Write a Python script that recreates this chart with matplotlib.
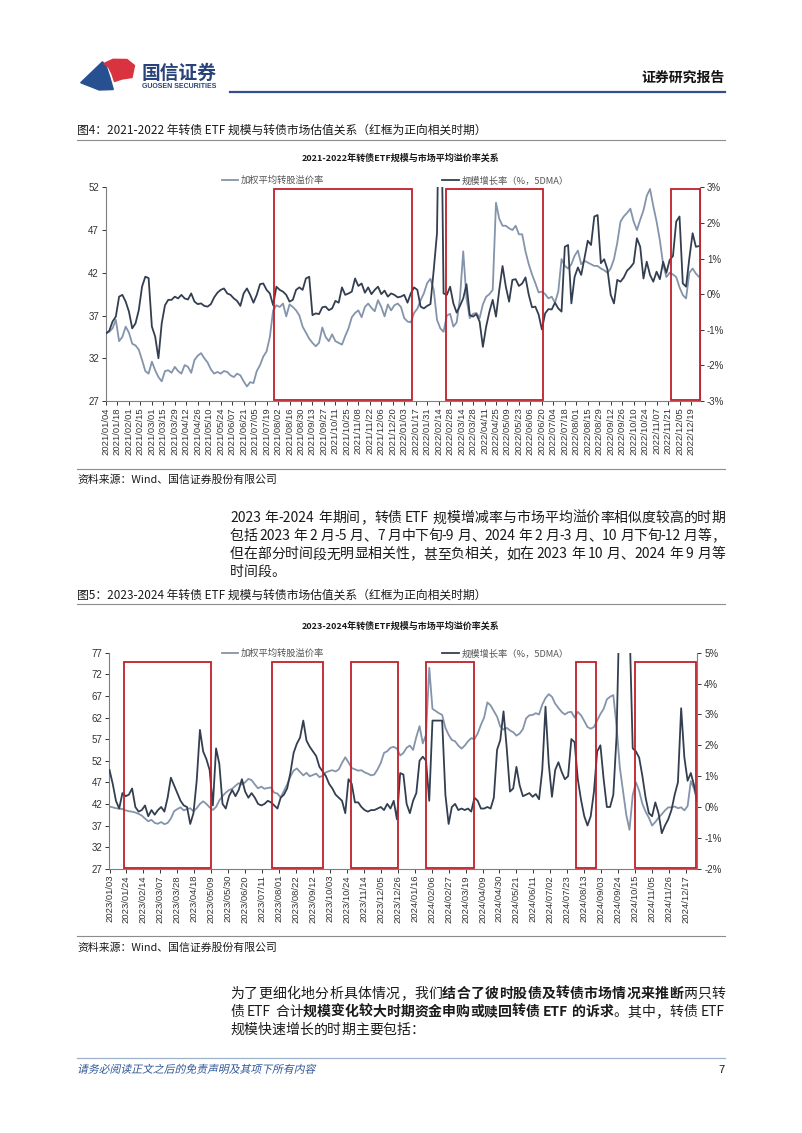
import pandas as pd
import matplotlib
matplotlib.use('Agg')
import matplotlib.pyplot as plt
import matplotlib.dates as mdates
from matplotlib.patches import Rectangle, Polygon, PathPatch
from matplotlib.lines import Line2D
from matplotlib.font_manager import FontProperties
from matplotlib.textpath import TextPath
from matplotlib.transforms import Affine2D

plt.rcParams['font.family'] = ['Noto Sans CJK SC', 'DejaVu Sans']

# ---------------- data ----------------
# chart 1: 2021-2022, sampled every 4 calendar days
dates1 = pd.date_range('2021-01-04', periods=182, freq='4D')
premium1 = [
    34.9, 35.1, 35.5, 36.5, 34.0, 34.5, 35.7, 35.0, 33.7, 33.5,
    33.0, 31.8, 30.5, 30.2, 31.6, 30.6, 29.8, 29.3, 30.5, 30.6,
    30.3, 31.0, 30.5, 30.2, 31.2, 31.0, 30.3, 31.8, 32.3, 32.6,
    32.0, 31.5, 30.7, 30.2, 30.4, 30.2, 30.5, 30.4, 30.0, 29.8,
    30.2, 30.0, 29.3, 28.7, 29.2, 29.1, 30.5, 31.2, 32.2, 32.8,
    34.5, 37.6, 38.2, 38.0, 38.4, 36.9, 38.3, 38.0, 37.6, 37.0,
    35.7, 35.0, 34.3, 33.8, 33.4, 33.8, 35.6, 34.5, 34.0, 34.8,
    34.0, 33.8, 33.6, 34.6, 35.5, 36.8, 37.3, 37.6, 36.8, 38.0,
    38.4, 37.9, 37.5, 38.8, 38.0, 36.9, 38.3, 37.6, 38.2, 38.4,
    38.0, 36.7, 36.3, 36.2, 37.3, 37.8, 38.8, 39.6, 40.8, 41.3,
    40.0, 36.5, 35.5, 35.1, 37.0, 37.2, 35.7, 36.2, 39.0, 44.5,
    39.0, 36.7, 37.2, 37.3, 36.7, 38.3, 39.2, 39.5, 40.0, 50.2,
    48.3, 47.5, 47.5, 47.2, 47.0, 47.5, 46.5, 46.5, 44.5, 43.0,
    41.8, 40.8, 39.7, 39.8, 39.5, 39.0, 39.2, 38.5, 39.8, 43.6,
    42.8, 42.5, 43.0, 44.0, 44.6, 43.0, 43.4, 43.2, 43.0, 42.8,
    42.8, 42.5, 42.3, 42.0, 42.5, 43.6, 45.5, 48.0, 48.6, 49.0,
    49.5, 48.0, 47.0, 48.2, 49.3, 51.0, 51.8, 49.8, 48.0, 45.8,
    43.0, 41.5, 42.0, 41.8, 41.5, 40.3, 39.4, 39.0, 42.0, 42.5,
    41.9, 41.5,
]
growth1 = [
    -1.10, -1.03, -0.77, -0.63, -0.07, -0.02, -0.21, -0.49, -0.96, -0.82,
    -0.45, 0.21, 0.49, 0.45, -0.91, -1.19, -1.80, -0.82, -0.31, -0.16,
    -0.16, -0.07, -0.12, -0.02, -0.12, -0.15, 0.02, -0.21, -0.28, -0.26,
    -0.33, -0.35, -0.28, -0.09, 0.04, 0.12, 0.16, 0.02, -0.02, -0.12,
    -0.19, -0.33, 0.02, 0.16, -0.02, -0.24, -0.02, 0.28, 0.30, 0.12,
    0.02, -0.31, 0.21, 0.12, 0.07, -0.02, -0.21, -0.16, 0.12, 0.19,
    0.12, 0.44, 0.49, -0.59, -0.54, -0.56, -0.37, -0.35, -0.45, -0.40,
    -0.19, -0.24, 0.19, -0.02, 0.02, 0.07, 0.44, 0.23, 0.30, 0.04,
    0.19, 0.00, 0.12, 0.21, 0.00, 0.10, -0.07, 0.02, -0.02, -0.09,
    -0.07, -0.02, -0.24, 0.02, 0.19, 0.12, -0.35, -0.40, -0.33, -0.28,
    0.68, 1.71, 8.00, 0.02, -0.02, 0.21, -0.26, -0.52, -0.33, -0.12,
    0.28, -0.59, -0.63, -0.56, -0.77, -1.48, -0.91, -0.49, -0.16, -0.63,
    0.12, 0.79, 0.21, -0.21, 0.40, 0.42, 0.23, 0.30, 0.47, -0.02,
    -0.37, -0.35, -0.57, -0.99, -0.54, -0.42, -0.43, -0.24, -0.40, -0.49,
    1.33, 1.38, -0.26, 0.49, 0.75, 0.54, 1.01, 1.50, 1.38, 2.18,
    2.22, 0.87, 0.98, 0.70, -0.02, -0.26, 0.40, 0.35, 0.47, 0.66,
    0.75, 0.87, 1.57, 1.33, 0.44, 0.91, 0.54, 0.35, 0.63, 0.42,
    0.91, 0.60, 0.96, 1.07, 2.04, 2.18, 0.30, 0.21, 1.01, 1.71,
    1.33, 1.35,
]
boxes1 = [('2021-07-28', '2022-01-12'), ('2022-02-23', '2022-06-21'),
          ('2022-11-24', '2022-12-30')]
xlim1 = ('2021-01-04', '2022-12-30')
ticks1 = pd.date_range('2021-01-04', '2022-12-19', freq='14D')

# chart 2: 2023-2024, sampled every 4 calendar days
dates2 = pd.date_range('2023-01-03', periods=183, freq='4D')
premium2 = [
    41.4, 41.2, 41.0, 40.9, 40.8, 40.5, 40.3, 40.2, 40.0, 39.7,
    39.3, 38.6, 38.0, 38.3, 37.6, 37.4, 37.8, 37.3, 37.6, 38.6,
    40.3, 40.8, 41.2, 40.5, 40.8, 41.0, 40.3, 41.0, 42.0, 42.6,
    42.0, 41.2, 40.6, 41.3, 42.8, 43.8, 44.6, 45.2, 45.5, 46.2,
    46.8, 46.5, 47.0, 47.8, 47.5, 46.5, 45.6, 46.0, 45.5, 45.7,
    45.8, 44.6, 44.4, 43.5, 45.0, 46.5, 48.3, 49.7, 50.2, 49.4,
    48.6, 49.2, 48.4, 48.7, 49.0, 48.2, 48.5, 49.3, 49.6, 49.8,
    49.5, 50.0, 51.5, 52.8, 51.6, 50.3, 50.0, 49.7, 49.8, 49.3,
    49.0, 48.6, 48.8, 50.0, 51.5, 53.8, 54.2, 55.0, 55.2, 54.8,
    53.2, 53.8, 55.0, 55.5, 54.5, 57.5, 60.0, 56.0, 58.0, 73.5,
    64.0, 63.5, 63.0, 62.6, 59.6, 58.0, 56.8, 56.5, 55.5, 54.8,
    55.5, 56.5, 57.2, 57.0, 58.3, 60.3, 62.0, 65.5, 64.8, 63.5,
    62.2, 59.9, 59.2, 59.6, 59.0, 58.6, 57.8, 58.3, 59.3, 61.8,
    62.5, 62.6, 63.0, 62.7, 65.0, 66.5, 67.4, 66.8, 65.2, 64.2,
    63.3, 62.7, 63.2, 63.3, 62.0, 63.3, 62.5, 61.2, 59.8, 59.4,
    59.8, 61.3, 62.8, 64.0, 66.2, 66.8, 67.2, 60.0, 50.5, 45.0,
    39.5, 36.0, 44.0, 47.0, 45.0, 42.0, 40.2, 38.8, 37.0, 37.8,
    38.8, 39.6, 40.5, 41.2, 41.2, 41.4, 41.0, 41.2, 40.5, 41.5,
    47.3, 45.5, 42.5,
]
growth2 = [
    1.20, 0.75, 0.20, -0.05, 0.45, 0.35, 0.40, 0.60, 0.00, -0.15,
    -0.10, 0.05, -0.30, -0.10, -0.25, -0.10, 0.00, -0.15, 0.30, 0.95,
    0.70, 0.45, 0.20, 0.05, 0.00, -0.55, -0.20, 0.85, 2.50, 1.80,
    1.55, 1.20, 0.05, 1.90, 1.40, 0.10, -0.05, 0.35, 0.55, 0.35,
    0.55, 0.90, 0.50, 0.30, 0.45, 0.30, 0.10, 0.05, 0.10, 0.20,
    0.15, 0.05, -0.05, 0.30, 0.40, 0.60, 1.10, 1.75, 2.05, 2.25,
    2.80, 2.15, 1.95, 1.80, 1.65, 1.30, 1.15, 1.00, 0.75, 0.60,
    0.40, 0.30, 0.20, -0.20, 0.90, 0.75, 0.15, 0.15, 0.00, -0.10,
    -0.15, -0.10, -0.10, -0.05, 0.00, -0.10, 0.10, -0.05, 0.20, -0.40,
    1.10, 1.05, 0.10, -0.20, 0.20, 0.45, 1.50, 1.63, 1.50, 0.20,
    2.80, 2.80, 2.80, 2.80, 0.40, -0.55, 0.00, 0.10, -0.10, -0.05,
    -0.10, -0.05, -0.15, 0.30, 0.20, -0.05, -0.05, 0.00, -0.05, 0.30,
    1.85, 2.17, 3.10, 1.90, 0.50, 0.60, 1.30, 0.70, 0.35, 0.40,
    0.45, 0.33, 0.42, 0.25, 1.20, 3.25, 1.40, 0.33, 1.20, 1.45,
    1.14, 0.90, 1.00, 2.20, 2.10, 0.90, 0.23, -0.30, -0.60, -0.30,
    0.50, 1.80, 2.00, 0.90, 0.00, 0.00, 0.40, 2.30, 7.00, 8.00,
    8.00, 6.00, 1.90, 1.80, 1.60, 1.00, 0.30, -0.20, -0.30, 0.15,
    -0.20, -0.85, -0.60, -0.40, -0.10, 0.40, 0.80, 3.20, 1.60, 0.85,
    1.10, 0.70, 0.20,
]
boxes2 = [('2023-01-21', '2023-05-09'), ('2023-07-23', '2023-09-25'),
          ('2023-10-29', '2023-12-26'), ('2024-01-30', '2024-03-29'),
          ('2024-08-03', '2024-08-28'), ('2024-10-15', '2024-12-30')]
xlim2 = ('2023-01-03', '2024-12-31')
ticks2 = pd.date_range('2023-01-03', '2024-12-17', freq='21D')

# ---------------- page ----------------
W, H = 802, 1133
fig = plt.figure(figsize=(W / 100, H / 100), dpi=100)
renderer = fig.canvas.get_renderer()

GRAY = '#8494ab'
DARK = '#333f50'
RED = '#c0202a'


def fx(x):
    return x / W


def fy(y):
    return 1 - y / H


def put(x, y, s, size, ha='left', weight='normal', color='#1a1a1a', **kw):
    # y is the visual middle of a CJK line, in pixels from the top
    em = size * 100 / 72
    return fig.text(fx(x), fy(y + 0.36 * em), s, fontsize=size, ha=ha,
                    va='baseline', fontweight=weight, color=color, **kw)


def put_italic(x, y, s, size, color):
    em = size * 100 / 72
    tp = TextPath((0, 0), s, size=size, prop=FontProperties(family='Noto Sans CJK SC'))
    tr = Affine2D().skew_deg(13, 0).scale(100 / 72).translate(x, H - (y + 0.36 * em))
    fig.add_artist(PathPatch(tp, transform=tr, facecolor=color, lw=0))


def hline(x0, x1, y, color, lw):
    fig.add_artist(Line2D([fx(x0), fx(x1)], [fy(y), fy(y)], color=color,
                          lw=lw, transform=fig.transFigure))


def para_line(x0, x1, y, runs, size, justify=True):
    em = size * 100 / 72
    toks = []
    for s, b in runs:
        buf = ''
        for ch in s:
            if ch.isascii() and ch != ' ':
                buf += ch
                continue
            if buf:
                toks.append((buf, b))
                buf = ''
            toks.append((ch, b))
        if buf:
            toks.append((buf, b))
    widths = []
    for t, b in toks:
        if t == ' ':
            widths.append(0.22 * em)
        elif t.isascii():
            fp = FontProperties(family='Noto Sans CJK SC', size=size,
                                weight='bold' if b else 'normal')
            w = renderer.get_text_width_height_descent(t, fp, ismath=False)[0]
            widths.append(w + 0.06 * em)
        else:
            widths.append(em)
    gap = (x1 - x0 - sum(widths)) / (len(toks) - 1) if justify else 0
    x = x0
    for (t, b), w in zip(toks, widths):
        if t != ' ':
            put(x, y, t, size, weight='bold' if b else 'normal')
        x += w + gap


# header
fig.add_artist(Polygon([(fx(80.7), fy(82.7)), (fx(102.5), fy(61.8)), (fx(106.5), fy(67)),
                        (fx(110), fy(78)), (fx(113.3), fy(89.5)), (fx(99.3), fy(90))],
                       closed=True, color='#26508f', transform=fig.transFigure))
fig.add_artist(Polygon([(fx(104), fy(63.5)), (fx(113), fy(59.3)), (fx(127), fy(59.5)),
                        (fx(134.5), fy(65.5)), (fx(132), fy(77.5)), (fx(122), fy(79)),
                        (fx(114.5), fy(81.5)), (fx(112), fy(74)), (fx(108.5), fy(67))],
                       closed=True, color='#d9333f', transform=fig.transFigure))
put(141.5, 72.5, '国信证券', 13.5, weight='bold', color='#28427a')
put(141.5, 86.0, 'GUOSEN SECURITIES', 5.0, weight='bold', color='#28427a',
    family='Liberation Sans')
put(725, 77, '证券研究报告', 10, ha='right', weight='bold', color='#111111')
hline(230, 725, 91.5, '#2f4f8f', 1.6)

# captions / sources
put(77, 129.3, '图4：2021-2022 年转债 ETF 规模与转债市场估值关系（红框为正向相关时期）', 8.5)
hline(77, 725, 139.5, '#8c8c8c', 0.8)
hline(77, 725, 468.7, '#8c8c8c', 0.8)
put(77, 479.3, '资料来源：Wind、国信证券股份有限公司', 7.8)

put(77, 594.3, '图5：2023-2024 年转债 ETF 规模与转债市场估值关系（红框为正向相关时期）', 8.5)
hline(77, 725, 604.3, '#8c8c8c', 0.8)
hline(77, 725, 936.4, '#8c8c8c', 0.8)
put(77, 947, '资料来源：Wind、国信证券股份有限公司', 7.8)

# body text
BS = 10
para_line(230, 725, 517.3, [('2023 年-2024 年期间，转债 ETF 规模增减率与市场平均溢价率相似度较高的时期', False)], BS)
para_line(230, 725, 535.0, [('包括 2023 年 2 月-5 月、7 月中下旬-9 月、2024 年 2 月-3 月、10 月下旬-12 月等，', False)], BS)
para_line(230, 725, 553.3, [('但在部分时间段无明显相关性，甚至负相关，如在 2023 年 10 月、2024 年 9 月等', False)], BS)
para_line(230, 725, 570.7, [('时间段。', False)], BS, justify=False)

para_line(230, 725, 993, [('为了更细化地分析具体情况，我们', False),
                          ('结合了彼时股债及转债市场情况来推断', True), ('两只转', False)], BS)
para_line(230, 725, 1011, [('债 ETF 合计', False),
                           ('规模变化较大时期资金申购或赎回转债 ETF 的诉求', True),
                           ('。其中，转债 ETF', False)], BS)
para_line(230, 725, 1029, [('规模快速增长的时期主要包括：', False)], BS, justify=False)

# footer
hline(77, 725, 1058, '#9fb3cc', 0.9)
put_italic(77, 1069, '请务必阅读正文之后的免责声明及其项下所有内容', 7.8, '#2e5597')
put(725, 1069, '7', 8, ha='right', color='#111111', family='Liberation Sans')


# ---------------- charts ----------------
def chart(box_px, dates, prem, grow, boxes, xlim, ticks, yl, yr, title, title_y,
          leg_y, box_top):
    left, top, right, bottom = box_px
    ax = fig.add_axes([fx(left), fy(bottom), (right - left) / W, (bottom - top) / H])
    ax.plot(dates, prem, color=GRAY, lw=1.3)
    ax.set_xlim(pd.Timestamp(xlim[0]), pd.Timestamp(xlim[1]))
    ax.set_ylim(yl[0], yl[-1])
    ax.set_yticks(yl)
    ax.set_yticklabels([str(v) for v in yl])
    ax.set_xticks(ticks)
    ax.set_xticklabels([d.strftime('%Y/%m/%d') for d in ticks], rotation=90)
    axr = ax.twinx()
    axr.plot(dates, grow, color=DARK, lw=1.3)
    axr.set_ylim(yr[0], yr[-1])
    axr.set_yticks(yr)
    axr.set_yticklabels([f'{v}%' for v in yr])
    for a in (ax, axr):
        for side in ('top', 'right', 'left', 'bottom'):
            a.spines[side].set_visible(False)
        a.tick_params(labelsize=7, colors='#333333', length=3, width=0.7,
                      labelfontfamily='Liberation Sans', pad=2)
    ax.tick_params(axis='x', labelsize=6.8, pad=1.5)
    ax.spines['left'].set_visible(True)
    ax.spines['bottom'].set_visible(True)
    axr.spines['right'].set_visible(True)
    for sp in (ax.spines['left'], ax.spines['bottom'], axr.spines['right']):
        sp.set_color('#7f7f7f')
        sp.set_linewidth(0.8)
    for b0, b1 in boxes:
        x0 = mdates.date2num(pd.Timestamp(b0))
        x1 = mdates.date2num(pd.Timestamp(b1))
        axr.add_patch(Rectangle((x0, 0.003), x1 - x0, box_top - 0.003,
                                transform=axr.get_xaxis_transform(), fill=False,
                                ec=RED, lw=1.3, clip_on=False, zorder=5))
    put(401, title_y, title, 6.5, ha='center', weight='bold')
    hline(222, 238, leg_y, GRAY, 1.3)
    put(241, leg_y, '加权平均转股溢价率', 6.7, color='#555555')
    hline(442, 459, leg_y, DARK, 1.3)
    put(462, leg_y, '规模增长率（%，5DMA）', 6.7, color='#555555')


chart((106, 187.3, 700, 401), dates1, premium1, growth1, boxes1, xlim1, ticks1,
      [27, 32, 37, 42, 47, 52], [-3, -2, -1, 0, 1, 2, 3],
      '2021-2022年转债ETF规模与市场平均溢价率关系', 158, 180, 0.992)
chart((109.5, 652.7, 697.3, 868.7), dates2, premium2, growth2, boxes2, xlim2, ticks2,
      [27, 32, 37, 42, 47, 52, 57, 62, 67, 72, 77], [-2, -1, 0, 1, 2, 3, 4, 5],
      '2023-2024年转债ETF规模与市场平均溢价率关系', 626, 653, 0.958)

fig.savefig('out.png', dpi=100)
